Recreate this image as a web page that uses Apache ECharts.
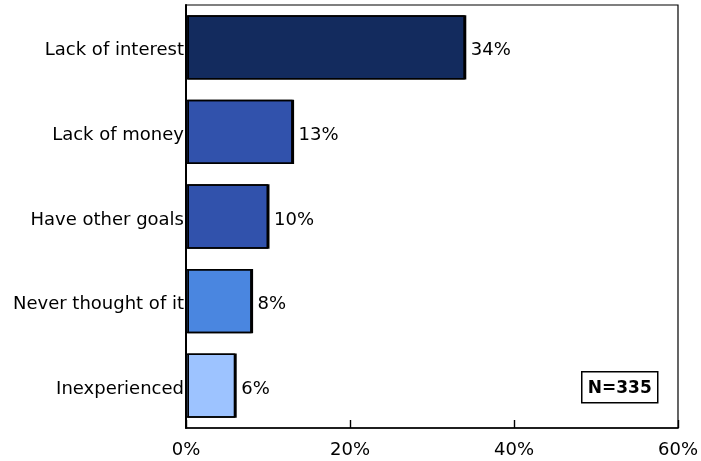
<!DOCTYPE html>
<html>
<head>
<meta charset="utf-8">
<script src="https://cdn.jsdelivr.net/npm/echarts@6/dist/echarts.min.js"></script>
<style>
  html, body { margin: 0; padding: 0; background: #fff; }
  #chart { width: 701px; height: 461px; }
</style>
</head>
<body>
<div id="chart"></div>
<script>
// Reasons, listed top to bottom
const categories = ['Lack of interest', 'Lack of money', 'Have other goals', 'Never thought of it', 'Inexperienced'];
// Share of respondents (%)
const values = [34, 13, 10, 8, 6];
// Fill colour of each bar
const barColors = ['#132b5e', '#3152ac', '#3152ac', '#4a86e0', '#9dc3ff'];
// Percent axis
const axisMin = 0;
const axisMax = 60;
const axisStep = 20;
const sampleNote = 'N=335';

const FONT = 'DejaVu Sans';

const chart = echarts.init(document.getElementById('chart'), null, { renderer: 'canvas' });

chart.setOption({
  animation: false,
  backgroundColor: '#ffffff',
  grid: {
    left: 186, right: 22, top: 5, bottom: 33,
    show: true, borderColor: '#000', borderWidth: 1.2, backgroundColor: 'transparent'
  },
  xAxis: {
    type: 'value',
    min: axisMin, max: axisMax, interval: axisStep,
    axisLine: { show: true, lineStyle: { color: '#000', width: 1.6 } },
    axisTick: { show: true, inside: true, length: 8, lineStyle: { color: '#000', width: 1.4 } },
    splitLine: { show: false },
    axisLabel: {
      formatter: '{value}%', color: '#000', fontFamily: FONT, fontSize: 18, margin: 13
    }
  },
  yAxis: {
    type: 'category',
    data: categories,
    inverse: true,
    axisLine: { show: true, lineStyle: { color: '#000', width: 2 } },
    axisTick: { show: false },
    axisLabel: {
      margin: 2,
      formatter: (v) => '{c|' + v + '}',
      rich: {
        c: { color: '#000', fontFamily: FONT, fontSize: 18, padding: [7, 0, 0, 0] }
      }
    }
  },
  series: [{
    type: 'bar',
    data: values.map((v, i) => ({ value: v, itemStyle: { color: barColors[i] } })),
    barCategoryGap: '24%',
    itemStyle: {
      borderColor: '#000', borderWidth: 1.5,
      shadowColor: '#000', shadowOffsetX: 1.5, shadowOffsetY: 0, shadowBlur: 0
    },
    label: {
      show: true, position: 'right', distance: 6, offset: [0, 3.5],
      formatter: '{c}%', color: '#000', fontFamily: FONT, fontSize: 18
    }
  }],
  graphic: [{
    type: 'group',
    left: 581, top: 371,
    children: [{
      type: 'rect',
      shape: { x: 0, y: 0, width: 76, height: 31 },
      style: { fill: '#fff', stroke: '#000', lineWidth: 1.5 }
    }, {
      type: 'text',
      x: 38, y: 16.5,
      style: {
        text: sampleNote, fill: '#000', fontFamily: FONT, fontSize: 17, fontWeight: 'bold',
        align: 'center', verticalAlign: 'middle'
      }
    }]
  }]
});
</script>
</body>
</html>
